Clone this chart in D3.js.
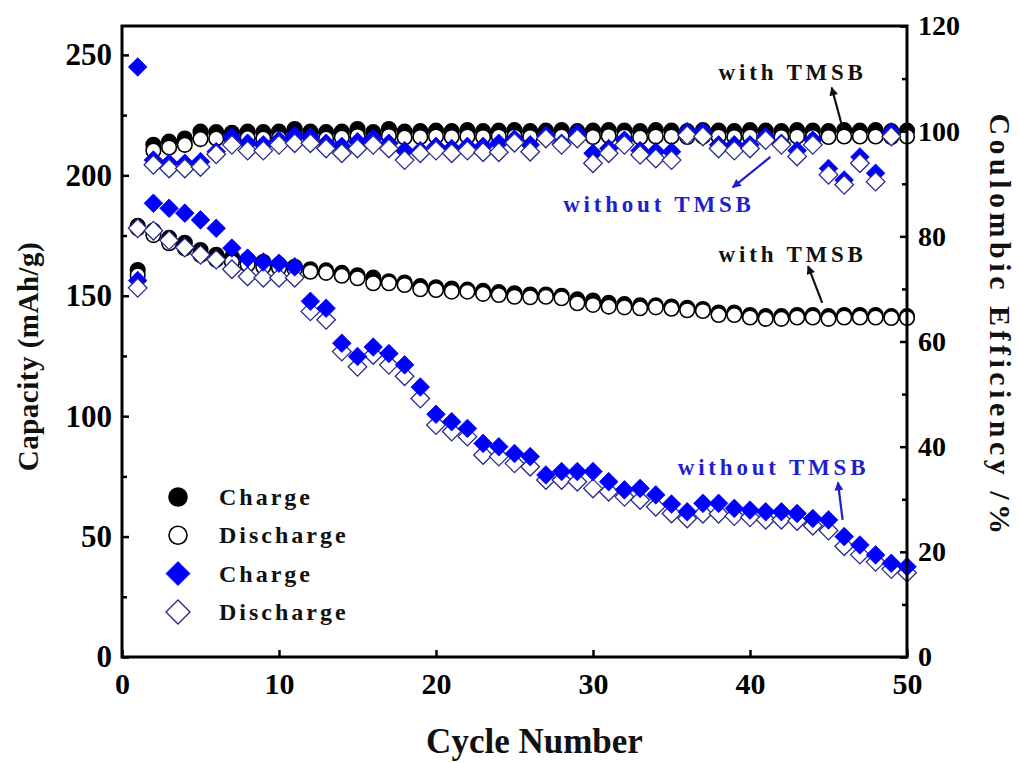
<!DOCTYPE html>
<html>
<head>
<meta charset="utf-8">
<script src="https://cdn.jsdelivr.net/npm/d3@7"></script>
<style>
  body { margin: 0; background: #fff; }
  text { font-family: "Liberation Serif", "Times New Roman", serif; font-weight: bold; }
</style>
</head>
<body>
<script>
// cycle index
const cycles = [1,2,3,4,5,6,7,8,9,10,11,12,13,14,15,16,17,18,19,20,21,22,23,24,25,
  26,27,28,29,30,31,32,33,34,35,36,37,38,39,40,41,42,43,44,45,46,47,48,49,50];

// capacity (mAh/g), with TMSB
const withCharge = [179,177,174,172,169,167,166,165,164,163,162,161,160.5,159.5,158.5,157.5,156,155.5,154,153.5,
  153,152.5,152,151.5,151,150.5,150.5,150,148.5,148,147,146.5,146,146,145.5,145,144.5,143,143,142,
  141.5,141.5,142,142,141.5,142,142,142,141.5,141.5];
const withDischarge = [178,175.2,171.8,169.7,166.9,164.9,164,163,162,161.5,161,160,159.5,158.3,157.3,155.2,155.2,154.5,152.7,152.4,
  151.7,151.7,150.8,150.3,149.6,149.4,149.6,149,146.9,146.2,145.5,145.2,144.8,145.2,144.6,144,143.7,142,142,141,
  140.4,140.4,141,141,140.4,141,141,141,140.8,140.8];

// capacity (mAh/g), without TMSB
const withoutCharge = [245,188.4,186.3,184.3,181.5,178,169.8,165.6,164,163.5,162,147.7,144.8,130.3,124.8,128.7,126,121.3,112.1,100.8,
  97.7,94.9,88.7,87.3,84.5,83.2,75.6,77,77,77,72.8,69.4,70,67.3,63.5,60.3,63.8,63.8,61.7,61,
  60.3,60.3,59.6,57.5,56.9,50,46.5,42.4,38.9,37.5];
const withoutDischarge = [178,177,173,170,167,165,161,158,157.5,157.5,157.5,143.5,140,126.8,120.5,125.4,121.3,116.6,107.3,96.3,
  93.6,91.5,83.9,83.2,80.4,79,73.5,73.5,72.8,70,68.6,66.5,65.2,62.4,59.6,57.5,59.5,59.5,58.5,58,
  57,57,56.5,54.5,52.5,46,42.5,39.5,36.5,35];

// coulombic efficiency (%)
const withCE = [73.6,97.4,98,98.6,99.9,99.8,99.7,99.9,99.8,99.9,100.4,99.9,99.8,99.9,100.4,99.8,100.4,99.9,100,100.1,
  100,100.2,100,100.1,100.2,100,100.1,100.2,100,100.1,100.2,100.1,100,100.2,100.1,100,100.2,100.1,100,100.2,
  100.1,100,100.2,100.1,100,100.2,100.1,100.2,100,100.1];
const withCE2 = [72.6,96.3,96.9,97.4,98.5,98.6,98.5,98.7,98.6,98.7,99.1,98.7,98.6,98.8,99.1,98.7,99.1,98.8,98.9,99,
  98.9,99,98.9,99,99,98.9,99,99,98.9,98.9,99.1,99,98.8,99,99,98.9,99,99,98.9,99,
  99,98.9,99,98.9,98.9,99,99,99,98.9,99];
const withoutCE = [71.6,94.5,93.9,93.9,94.2,96.1,98.9,97.7,97.4,98.3,99.2,98.9,97.7,97.1,98,98.6,97.7,96.3,96.3,97.1,
  96.7,97.1,97.1,97.7,98.5,97.4,99.2,97.7,99.6,95.8,96.7,98.3,96.3,96.1,96.1,99.9,99.9,97.4,97.4,97.4,
  98.9,97.7,96.3,98.3,92.9,90.7,95.1,92,99.9];
const withoutCE2 = [70.2,93.6,92.9,92.9,93.2,95.6,97.4,96.3,96.3,97.4,97.7,97.7,96.7,95.8,96.7,97.4,96.7,94.5,95.8,96.3,
  95.8,96.3,96,96,97.8,96.1,98.6,97.4,98.6,93.9,95.8,97.4,95.5,94.8,94.5,99.2,99,96.7,96.3,96.7,
  98.3,97.4,95.2,97.4,91.7,89.8,93.9,90.4,99];

const xTicks = [0,10,20,30,40,50];
const leftTicks = [0,50,100,150,200,250];
const leftMinor = [25,75,125,175,225];
const rightTicks = [0,20,40,60,80,100,120];
const rightMinor = [10,30,50,70,90,110];

const legendItems = [
  {label: "Charge", shape: "circle", fill: "#000"},
  {label: "Discharge", shape: "circle", fill: "#fff"},
  {label: "Charge", shape: "diamond", fill: "#0000ff"},
  {label: "Discharge", shape: "diamond", fill: "#fff"}
];

// labels placed in data units: [cycle, value], axis L or R
const notes = [
  {text: "with TMSB", color: "#111", axis: "R", at: [38, 109.7], from: [45.9, 100.6], to: [45.2, 108.3]},
  {text: "without TMSB", color: "#1f1fd0", axis: "R", at: [28.1, 84.6], from: [41.3, 95.1], to: [38.9, 89.3]},
  {text: "with TMSB", color: "#111", axis: "L", at: [38, 164], from: [44.6, 147], to: [43.7, 162.3]},
  {text: "without TMSB", color: "#1f1fd0", axis: "L", at: [35.4, 75.6], from: [45.9, 56.9], to: [45.6, 72.5]}
];

const W = 1019, H = 763;
const m = {left: 122, right: 907, top: 26, bottom: 657};

const x = d3.scaleLinear().domain([0, 50]).range([m.left, m.right]);
const yL = d3.scaleLinear().domain([0, 262]).range([m.bottom, m.top]);
const yR = d3.scaleLinear().domain([0, 120]).range([m.bottom, m.top]);

const svg = d3.select("body").append("svg")
  .attr("width", W)
  .attr("height", H);

svg.append("defs").selectAll("marker")
  .data([["headK", "#111"], ["headB", "#1f1fd0"]])
  .join("marker")
  .attr("id", d => d[0])
  .attr("viewBox", "0 0 10 10")
  .attr("refX", 9).attr("refY", 5)
  .attr("markerWidth", 5).attr("markerHeight", 4)
  .attr("orient", "auto")
  .attr("markerUnits", "strokeWidth")
  .append("path").attr("d", "M0,0 L10,5 L0,10 Z").attr("fill", d => d[1]);

function diamond(cx, cy, h) {
  return `M${cx},${cy - h}L${cx + h},${cy}L${cx},${cy + h}L${cx - h},${cy}Z`;
}

function circles(vals, y, fill) {
  svg.append("g").selectAll("circle")
    .data(vals)
    .join("circle")
    .attr("cx", (d, i) => x(cycles[i]))
    .attr("cy", d => y(d))
    .attr("r", 7.3)
    .attr("fill", fill)
    .attr("stroke", "#000")
    .attr("stroke-width", 1.6);
}

function diamonds(vals, y, fill) {
  const open = fill === "#fff";
  svg.append("g").selectAll("path")
    .data(vals)
    .join("path")
    .attr("d", (d, i) => diamond(x(cycles[i]), y(d), 9.3))
    .attr("fill", fill)
    .attr("stroke", open ? "#2a2a8a" : "#0000ff")
    .attr("stroke-width", open ? 1.3 : 0.8);
}

// capacity layer
circles(withCharge, yL, "#000");
circles(withDischarge, yL, "#fff");
diamonds(withoutDischarge, yL, "#fff");
diamonds(withoutCharge, yL, "#0000ff");

// efficiency layer
circles(withCE, yR, "#000");
circles(withCE2, yR, "#fff");
diamonds(withoutCE, yR, "#0000ff");
diamonds(withoutCE2, yR, "#fff");

// frame
svg.append("rect")
  .attr("x", m.left).attr("y", m.top)
  .attr("width", m.right - m.left).attr("height", m.bottom - m.top)
  .attr("fill", "none").attr("stroke", "#000").attr("stroke-width", 3);

function styleAxis(g, size) {
  g.select(".domain").remove();
  g.selectAll(".tick line").attr("stroke", "#000").attr("stroke-width", 2.5);
  g.selectAll(".tick text").attr("fill", "#000")
    .style("font-size", size + "px")
    .style("font-family", "'Liberation Serif', serif")
    .style("font-weight", "bold");
}

svg.append("g").attr("transform", `translate(0,${m.bottom})`)
  .call(d3.axisBottom(x).tickValues(xTicks).tickSize(-7).tickPadding(16).tickFormat(d3.format("d")))
  .call(g => styleAxis(g, 30));

svg.append("g").attr("transform", `translate(${m.left},0)`)
  .call(d3.axisLeft(yL).tickValues(leftTicks).tickSize(-7).tickPadding(10).tickFormat(d3.format("d")))
  .call(g => styleAxis(g, 31));
svg.append("g").attr("transform", `translate(${m.left},0)`)
  .call(d3.axisLeft(yL).tickValues(leftMinor).tickSize(-5).tickFormat(""))
  .call(g => styleAxis(g, 10));

svg.append("g").attr("transform", `translate(${m.right},0)`)
  .call(d3.axisRight(yR).tickValues(rightTicks).tickSize(-7).tickPadding(11).tickFormat(d3.format("d")))
  .call(g => styleAxis(g, 28));
svg.append("g").attr("transform", `translate(${m.right},0)`)
  .call(d3.axisRight(yR).tickValues(rightMinor).tickSize(-5).tickFormat(""))
  .call(g => styleAxis(g, 10));

// axis titles
svg.append("text")
  .attr("x", (m.left + m.right) / 2 + 20).attr("y", 753)
  .attr("text-anchor", "middle")
  .style("font-size", "35px").attr("fill", "#111")
  .text("Cycle Number");

svg.append("text")
  .attr("transform", `translate(38,${(m.top + m.bottom) / 2 + 15}) rotate(-90)`)
  .attr("text-anchor", "middle")
  .style("font-size", "29px").style("letter-spacing", "0.5px").attr("fill", "#111")
  .text("Capacity (mAh/g)");

svg.append("text")
  .attr("transform", "translate(990,326) rotate(90)")
  .attr("text-anchor", "middle")
  .style("font-size", "30px").style("letter-spacing", "4.5px").attr("fill", "#111")
  .text("Coulombic Efficiency /%");

// annotations
notes.forEach(n => {
  const y = n.axis === "L" ? yL : yR;
  svg.append("text")
    .attr("x", x(n.at[0])).attr("y", y(n.at[1]))
    .style("font-size", "23px").style("letter-spacing", "3.8px")
    .attr("fill", n.color)
    .text(n.text);
  svg.append("line")
    .attr("x1", x(n.from[0])).attr("y1", y(n.from[1]))
    .attr("x2", x(n.to[0])).attr("y2", y(n.to[1]))
    .attr("stroke", n.color).attr("stroke-width", 2.2)
    .attr("marker-end", n.color === "#111" ? "url(#headK)" : "url(#headB)");
});

// legend
const legend = svg.append("g");
legend.selectAll("g")
  .data(legendItems)
  .join("g")
  .attr("transform", (d, i) => `translate(178,${497 + i * 38.3})`)
  .each(function(d) {
    const g = d3.select(this);
    if (d.shape === "circle") {
      g.append("circle").attr("r", 9).attr("fill", d.fill)
        .attr("stroke", "#000").attr("stroke-width", 1.6);
    } else {
      const open = d.fill === "#fff";
      g.append("path").attr("d", diamond(0, 0, 12)).attr("fill", d.fill)
        .attr("stroke", open ? "#2a2a8a" : "#0000ff").attr("stroke-width", open ? 1.4 : 0.8);
    }
    g.append("text").attr("x", 41).attr("y", 8)
      .style("font-size", "24px").style("letter-spacing", "3px")
      .attr("fill", "#111")
      .text(d.label);
  });
</script>
</body>
</html>
